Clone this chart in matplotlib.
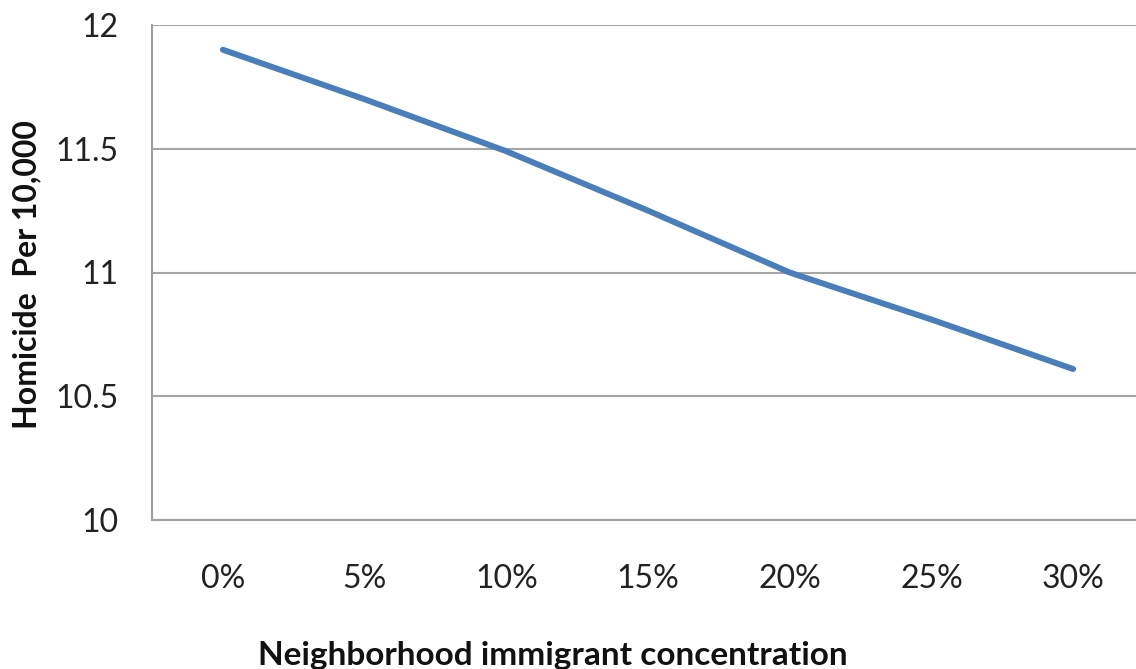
"""
Homicide rate against neighborhood immigrant concentration.
"""

import matplotlib
matplotlib.use("Agg")
import matplotlib.pyplot as plt
from matplotlib.ticker import FormatStrFormatter

plt.rcParams["font.family"] = ["Lato", "DejaVu Sans"]

# data read per category
categories = ["0%", "5%", "10%", "15%", "20%", "25%", "30%"]
homicide_rate = [11.90, 11.70, 11.49, 11.25, 11.00, 10.81, 10.61]
y_ticks = [10, 10.5, 11, 11.5, 12]

W, H = 1136, 669
fig = plt.figure(figsize=(W / 100, H / 100), dpi=100)
# plot area runs slightly past the right edge of the canvas
ax = fig.add_axes([152 / W, 1 - 520 / H, 992 / W, (520 - 25) / H])

x = range(len(categories))
ax.plot(x, homicide_rate, color="#4a7ebb", linewidth=4.3,
        solid_capstyle="round", zorder=3)

ax.set_xlim(-0.5, len(categories) - 0.5)
ax.set_ylim(10, 12)
ax.set_yticks(y_ticks)
ax.yaxis.set_major_formatter(FormatStrFormatter("%g"))
ax.set_xticks(list(x))
ax.set_xticklabels(categories)

ax.grid(axis="y", color="#a6a6a6", linewidth=1.5)
ax.set_axisbelow(True)
for side in ["top", "right"]:
    ax.spines[side].set_visible(False)
for side in ["left", "bottom"]:
    ax.spines[side].set_color("#a0a0a0")
    ax.spines[side].set_linewidth(1.5)

ax.tick_params(axis="both", length=0, labelsize=23, labelcolor="#222222")
ax.tick_params(axis="y", pad=24)
ax.tick_params(axis="x", pad=32)

fig.text(553 / W, 1 - 655 / H, "Neighborhood immigrant concentration",
         ha="center", va="center", fontsize=24, fontweight="bold",
         color="#111111")
fig.text(27 / W, 1 - 275 / H, "Homicide  Per 10,000", rotation=90,
         ha="center", va="center", fontsize=23, fontweight="bold",
         color="#111111")

fig.savefig("out.png", dpi=100, facecolor="white")
